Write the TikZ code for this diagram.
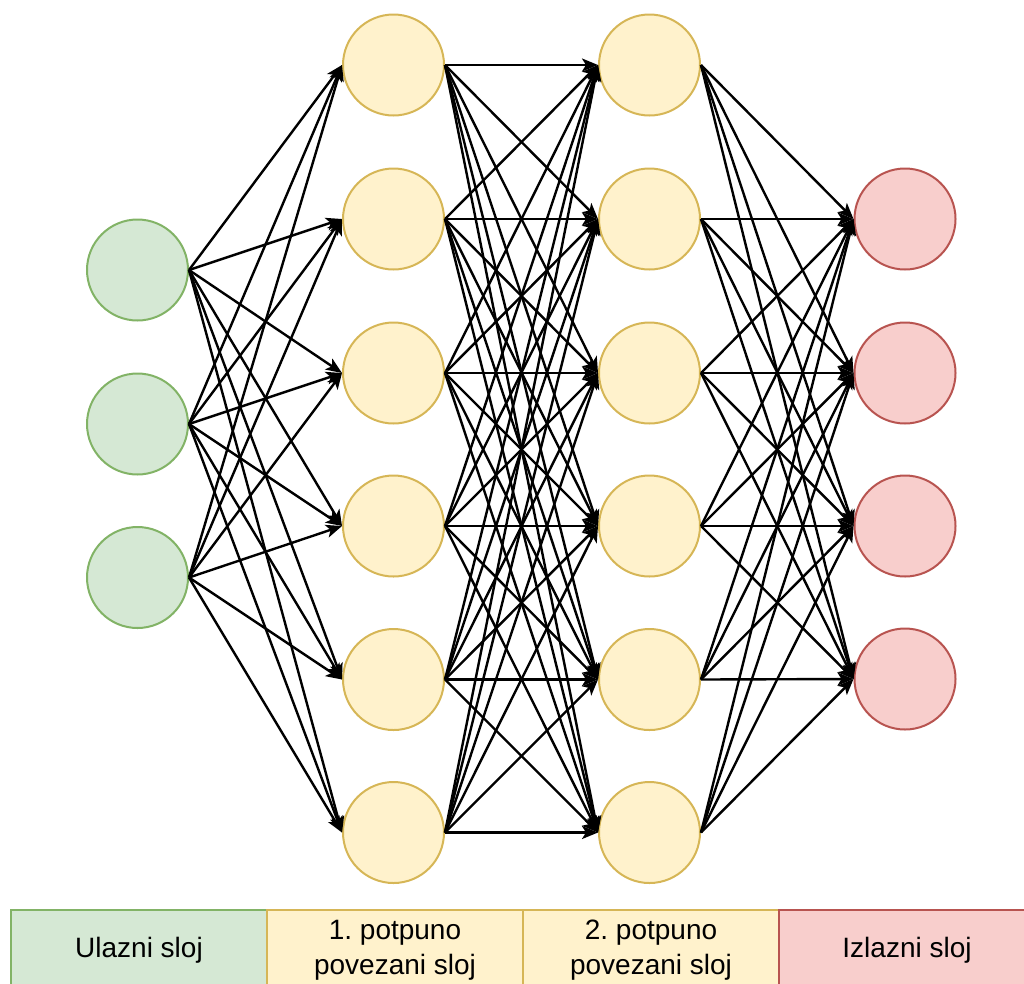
\documentclass[tikz,border=0pt]{standalone}
\usepackage{fontspec}
\setmainfont{Liberation Sans}
\frenchspacing
\usetikzlibrary{arrows.meta}
\definecolor{gfill}{HTML}{D5E8D4}\definecolor{gdraw}{HTML}{82B366}
\definecolor{yfill}{HTML}{FFF2CC}\definecolor{ydraw}{HTML}{D6B656}
\definecolor{rfill}{HTML}{F8CECC}\definecolor{rdraw}{HTML}{B85450}
\tikzset{
  neuron/.style={circle,minimum size=101pt,inner sep=0pt,line width=2pt},
  inn/.style={neuron,fill=gfill,draw=gdraw},
  hid/.style={neuron,fill=yfill,draw=ydraw},
  outn/.style={neuron,fill=rfill,draw=rdraw},
  conn/.style={line width=2.4pt,black,-{Stealth[length=16pt,width=13pt,inset=4pt]}},
  legend/.style={rectangle,minimum width=256pt,minimum height=80pt,inner sep=0pt,line width=2pt,font=\fontsize{28}{35}\selectfont,align=center,anchor=north west}
}
\begin{document}
\begin{tikzpicture}[x=1pt,y=-1pt]
\useasboundingbox (0,0) rectangle (1024,983);
% input
\node[inn] (i1) at (137.5,270) {};
\node[inn] (i2) at (137.5,424) {};
\node[inn] (i3) at (137.5,577.5) {};
% hidden 1 and 2
\foreach \k/\y in {1/65,2/219,3/373,4/526,5/679.5,6/832.5}{
  \node[hid] (a\k) at (393.5,\y) {};
  \node[hid] (b\k) at (649.5,\y) {};
}
% output
\foreach \k/\y in {1/219,2/373,3/526,4/679}{
  \node[outn] (o\k) at (905,\y) {};
}
% connections
\foreach \i in {1,2,3}{\foreach \j in {1,...,6}{\draw[conn] (i\i.east) -- (a\j.west);}}
\foreach \i in {1,...,6}{\foreach \j in {1,...,6}{\draw[conn] (a\i.east) -- (b\j.west);}}
\foreach \i in {1,...,6}{\foreach \j in {1,...,4}{\draw[conn] (b\i.east) -- (o\j.west);}}
% legend
\begin{scope}
\clip (0,0) rectangle (1024,983);
\node[legend,fill=gfill,draw=gdraw] (l1) at (10,909) {Ulazni sloj};
\node[legend,fill=yfill,draw=ydraw] (l2) at (266,909) {1. potpuno\\povezani sloj};
\node[legend,fill=yfill,draw=ydraw] (l3) at (522,909) {2. potpuno\\povezani sloj};
\node[legend,fill=rfill,draw=rdraw] (l4) at (778,909) {Izlazni sloj};
\end{scope}
\end{tikzpicture}
\end{document}
